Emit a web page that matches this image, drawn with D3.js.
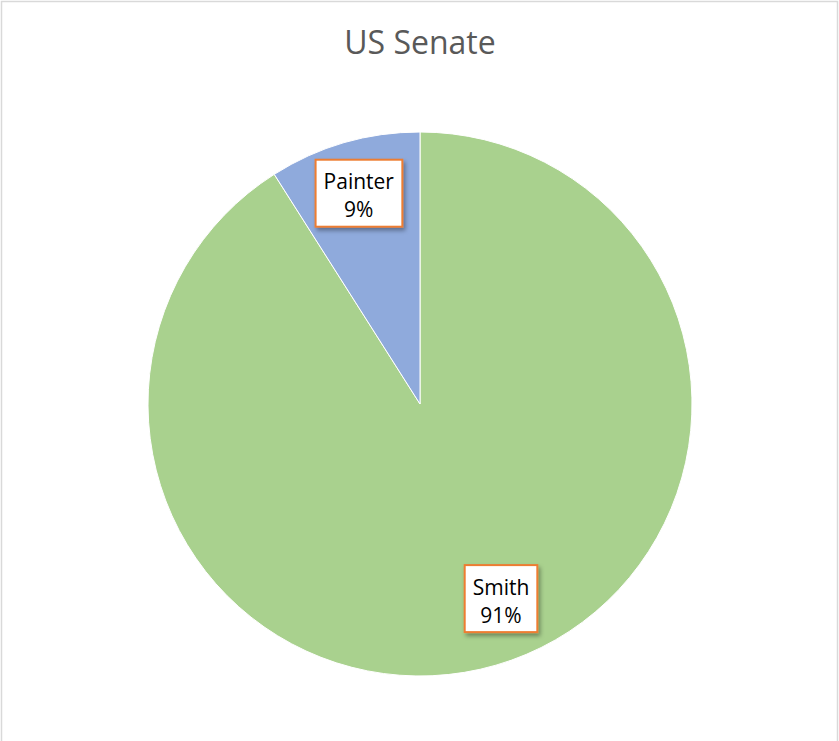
<!DOCTYPE html>
<html lang="en">
<head>
    <meta charset="UTF-8">
    <title>US Senate</title>
    <script src="https://d3js.org/d3.v7.min.js"></script>
    <style>
        body { margin: 0; background: #fff; }
        text { font-family: 'Open Sans', 'Liberation Sans', sans-serif; }
    </style>
</head>
<body>
    <div id="chart"></div>
    <script>
        // data
        const candidates = ["Smith", "Painter"];
        const shares = [91, 9];
        const colors = ["#A9D18E", "#8FAADC"];

        const width = 839, height = 741;
        const cx = 420, cy = 404, radius = 272;

        const svg = d3.select("#chart")
            .append("svg")
            .attr("width", width)
            .attr("height", height);

        // outer chart frame (bottom edge falls outside the picture)
        svg.append("rect")
            .attr("x", 1.5).attr("y", 1.5)
            .attr("width", width - 3).attr("height", height + 10)
            .attr("fill", "#fff")
            .attr("stroke", "#d9d9d9")
            .attr("stroke-width", 1.5);

        const defs = svg.append("defs");
        const shadow = defs.append("filter").attr("id", "shadow")
            .attr("x", "-20%").attr("y", "-20%").attr("width", "150%").attr("height", "150%");
        shadow.append("feDropShadow")
            .attr("dx", 2).attr("dy", 3).attr("stdDeviation", 2)
            .attr("flood-color", "#000").attr("flood-opacity", 0.35);

        svg.append("text")
            .attr("x", cx)
            .attr("y", 54)
            .attr("text-anchor", "middle")
            .style("font-size", "32px")
            .style("fill", "#595959")
            .text("US Senate");

        const data = candidates.map((c, i) => ({name: c, value: shares[i], color: colors[i]}));
        const total = d3.sum(shares);

        const pie = d3.pie().sort(null).value(d => d.value);
        const arc = d3.arc().innerRadius(0).outerRadius(radius);
        const arcs = pie(data);

        const g = svg.append("g").attr("transform", `translate(${cx},${cy})`);

        g.selectAll("path")
            .data(arcs)
            .join("path")
            .attr("d", arc)
            .attr("fill", d => d.data.color)
            .attr("stroke", "#fff")
            .attr("stroke-width", 1);

        // label sits along the slice's middle angle; big slice label nudged a bit like Excel's best fit
        const labelSpot = function(d) {
            let a = (d.startAngle + d.endAngle) / 2;
            let r = radius * 0.807;
            if (d.endAngle - d.startAngle > Math.PI) {
                a -= 6.4 * Math.PI / 180;
                r = radius * 0.775;
            }
            return [Math.sin(a) * r, -Math.cos(a) * r];
        };

        const labels = g.selectAll(".lbl")
            .data(arcs)
            .join("g")
            .attr("class", "lbl")
            .attr("transform", d => `translate(${labelSpot(d)})`);

        const box = labels.append("rect")
            .attr("fill", "#fff")
            .attr("stroke", "#ED7D31")
            .attr("stroke-width", 2)
            .attr("filter", "url(#shadow)");

        const txt = labels.append("text")
            .attr("text-anchor", "middle")
            .style("font-size", "21px")
            .style("fill", "#000");
        txt.append("tspan").attr("x", 0).attr("y", -4).text(d => d.data.name);
        txt.append("tspan").attr("x", 0).attr("y", 24)
            .text(d => Math.round(d.data.value / total * 100) + "%");

        box.each(function() {
            const bb = this.parentNode.querySelector("text").getBBox();
            d3.select(this)
                .attr("x", bb.x - 8)
                .attr("y", -33.5)
                .attr("width", bb.width + 16)
                .attr("height", 67);
        });
    </script>
</body>
</html>
